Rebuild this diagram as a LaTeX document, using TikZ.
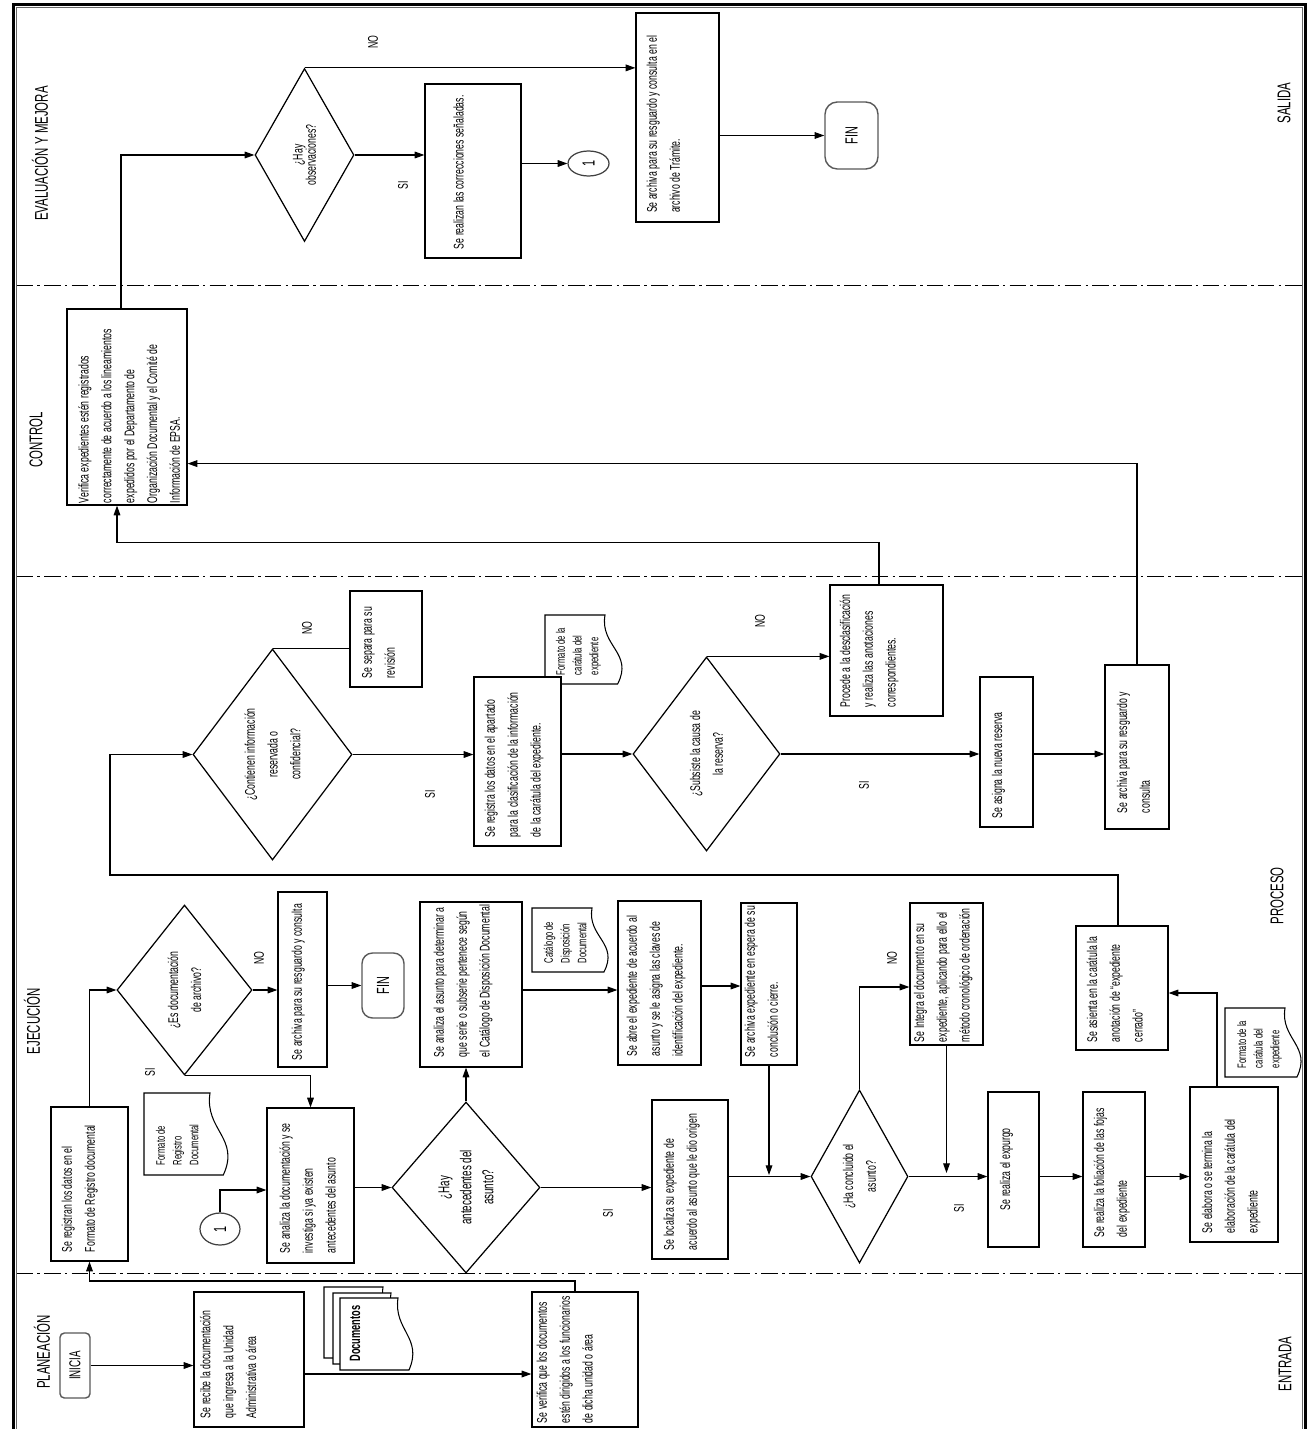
\documentclass[tikz,border=0pt]{standalone}
\usepackage{fontspec}
\setmainfont[FakeStretch=0.62]{Liberation Sans}
\usetikzlibrary{shapes.geometric,arrows.meta}
\newlength\pxu \setlength\pxu{0.02cm}
\newcommand\boxfont{\fontsize{8}{13}\selectfont}
\newcommand\docfont{\fontsize{7}{9.5}\selectfont}
\newcommand\termfont{\fontsize{10}{11}\selectfont}
\newcommand\lblfont{\fontsize{8}{9}\selectfont}
\newcommand\lanefont{\fontsize{10.5}{12}\selectfont}
\newcommand\bx[5][9]{\parbox[c][#3\pxu][t]{#2\pxu}{\vspace*{#4\pxu}\noindent\hspace*{#1\pxu}\begin{tabular}[t]{@{}l@{}}#5\end{tabular}}}
\newcommand\docshape[5]{\draw[docst] (#1,-#3) -- (#2,-#3) .. controls ({#2-0.3*#5},{-#3-0.45*(#4-#3)}) and ({#2+1.6*#5},{-#3-0.55*(#4-#3)}) .. ({#2+0.7*#5},-#4) -- (#1,-#4) -- cycle;}
\begin{document}
\begin{tikzpicture}[x=0.02cm,y=0.02cm,
  bxs/.style={draw, line width=0.7pt, fill=white, inner sep=0pt, rotate=90, font=\boxfont},
  txs/.style={inner sep=0pt, rotate=90, font=\docfont},
  dia/.style n args={3}{diamond, draw, line width=0.7pt, fill=white, inner sep=0pt, rotate=90, align=center, font=\boxfont, minimum width=#1*0.02cm, minimum height=#2*0.02cm, aspect=#3},
  trm/.style n args={3}{draw=black!65, line width=0.8pt, fill=white, rounded corners=#3, rotate=90, inner sep=0pt, minimum width=#1*0.02cm, minimum height=#2*0.02cm, font=\termfont},
  cir/.style 2 args={ellipse, draw=black!75, line width=0.7pt, fill=white, inner sep=0pt, rotate=90, minimum width=#1*0.02cm, minimum height=#2*0.02cm, font=\termfont},
  arr/.style={line width=0.6pt, -{Triangle[length=5.5pt,width=3.8pt]}},
  lin/.style={line width=0.6pt},
  lbl/.style={rotate=90, inner sep=0pt, font=\lblfont},
  lanet/.style={rotate=90, inner sep=0pt, font=\lanefont},
  sepl/.style={line width=0.45pt, dash pattern=on 9.5pt off 2.4pt on 1.4pt off 2.4pt},
  docst/.style={draw, line width=0.6pt, fill=white},
]
\useasboundingbox (0,0) rectangle (1307,-1429);
\clip (0,0) rectangle (1307,-1429);
\fill[white] (0,0) rectangle (1307,-1429);

% frame
\draw[line width=1.5pt] (13.5,-1440) -- (13.5,-4.5) -- (1305.5,-4.5) -- (1305.5,-1440);
\draw[line width=0.5pt, black!60] (16.5,-1440) -- (16.5,-7.5) -- (1302.5,-7.5) -- (1302.5,-1440);

% lane separators
\draw[sepl] (16.5,-285.5) -- (1302.5,-285.5);
\draw[sepl] (16.5,-576) -- (1302.5,-576);
\draw[sepl] (16.5,-1273) -- (1302.5,-1273);

% lane titles
\node[lanet] (tplan) at (42,-1352) {PLANEACIÓN};
\node[lanet] (tejec) at (32,-1021) {EJECUCIÓN};
\node[lanet] (tcont) at (36,-440) {CONTROL};
\node[lanet] (teval) at (40,-153.5) {EVALUACIÓN Y MEJORA};
\node[lanet] (tent) at (1285,-1364) {ENTRADA};
\node[lanet] (tproc) at (1277,-896) {PROCESO};
\node[lanet] (tsal) at (1284,-103) {SALIDA};

% ---------- Planeacion ----------
\node[trm={65}{30}{2.5pt}, font=\fontsize{9}{10}\selectfont] (inicia) at (75,-1365.5) {INICIA};
\node[bxs] (recibe) at (249,-1359.5) {\bx{135}{110}{0.5}{Se recibe  la documentación\\que ingresa a la Unidad\\Administrativa o área}};
\node[bxs] (verifica) at (585,-1359.5) {\bx[4]{135}{106}{-1}{Se  verifica que los documentos\\estén dirigidos a los funcionarios\\de dicha unidad o área}};
\docshape{324}{383}{1287}{1358}{15}
\docshape{333}{391}{1293}{1364}{15}
\docshape{340}{398}{1298}{1370}{15.7}
\node[rotate=90, inner sep=0pt, font=\fontsize{8.5}{10}\selectfont\bfseries] (documentos) at (355,-1333.5) {Documentos};

% ---------- Ejecucion ----------
\node[bxs] (registran) at (89.5,-1184) {\bx{154}{77}{5}{Se registran los datos en el\\Formato de Registro documental}};
\docshape{144}{210}{1093}{1175}{19}
\node[txs] (docreg) at (185.5,-1134) {\bx[10]{82}{83}{9.3}{Formato de\\Registro\\Documental}};
\node[dia={170}{135}{1.26}] (esdoc) at (184.5,-990) {¿Es documentación\\de archivo?};
\node[bxs] (archiva1) at (302.5,-979.5) {\bx[7]{175}{49}{8}{Se archiva para su resguardo y consulta}};
\node[trm={65}{42}{6pt}] (fin1) at (383,-985.5) {FIN};
\node[cir={32}{40}] (c1) at (220,-1229) {1};
\node[bxs] (analizadoc) at (310.5,-1185.5) {\bx[10]{155}{87}{7}{Se analiza la documentación y se\\investiga si ya existen\\antecedentes del  asunto}};
\node[dia={171}{148}{1.16}, font=\fontsize{9}{12.5}\selectfont] (hayant) at (466,-1187.5) {¿Hay\\antecedentes del\\asunto?};
\node[bxs] (analizaasunto) at (471,-984.5) {\bx[10]{165}{102}{8}{Se analiza el asunto para determinar a\\que serie o subserie pertenece según\\el Catálogo de Disposición Documental}};
\docshape{532}{592}{908}{972}{17}
\node[txs] (doccat) at (569.5,-940) {\bx{64}{75}{9.3}{Catálogo de\\Disposición\\Documental}};
\node[bxs] (abre) at (659.5,-983) {\bx{164}{83}{3}{Se abre el expediente de acuerdo al\\asunto y se le asigna las claves de\\identificación del expediente.}};
\node[bxs] (archivaexp) at (769,-984) {\bx[8]{162}{56}{-2}{Se archiva expediente en espera de  su\\conclusión o cierre.}};
\node[bxs] (localiza) at (690,-1179.5) {\bx{159}{76}{6}{Se  localiza su expediente de\\acuerdo al asunto que le dio origen}};
\node[dia={173}{97}{1.78}] (haconc) at (859.5,-1176.5) {¿Ha concluido el\\asunto?};
\node[bxs] (integra) at (946.5,-974) {\bx[3]{142}{73}{-2}{Se Integra el documento en su\\expediente, aplicando para ello el\\método cronológico de ordenación}};
\node[bxs] (expurgo) at (1013.5,-1169.5) {\bx[37]{155}{51}{6}{Se realiza el expurgo}};
\node[bxs] (foliacion) at (1114,-1169.5) {\bx[10]{155}{62}{5}{Se  realiza la foliación de las fojas\\del expediente}};
\node[bxs] (elabora) at (1234,-1164.5) {\bx{155}{88}{6}{Se elabora o se termina la\\elaboración de la carátula del\\expediente}};
\node[bxs] (asienta) at (1122,-988) {\bx[8]{124}{92}{5}{Se asienta en la carátula la\\anotación de “expediente\\cerrado”}};
\docshape{1225}{1285}{1008}{1077}{17}
\node[txs] (doccar2) at (1262.5,-1042.5) {\bx{69}{75}{9.3}{Formato de la\\carátula del\\expediente}};
\node[dia={211}{159}{1.33}] (contienen) at (272.5,-754.5) {¿Contienen información\\reservada o\\confidencial?};
\node[bxs] (separa) at (386,-639) {\bx{96}{72}{6}{Se separa para su\\revisión}};
\docshape{545}{605}{615}{684}{18}
\node[txs] (doccar1) at (583,-649.5) {\bx{69}{76}{8.3}{Formato de la\\carátula del\\expediente}};
\node[bxs] (regclas) at (517.5,-761.5) {\bx{169}{87}{5}{Se registra los datos en el apartado\\para la clasificación de la información\\de la carátula del expediente.}};
\node[dia={194}{147}{1.32}] (subsiste) at (706.5,-754) {¿Subsiste la causa de\\la reserva?};
\node[bxs] (procede) at (886.5,-650.5) {\bx{131}{113}{4}{Procede a la desclasificación\\y realiza las anotaciones\\correspondientes.}};
\node[bxs] (asigna) at (1006.5,-752) {\bx{150}{53}{6}{Se asigna la nueva reserva}};
\node[bxs] (archiva2) at (1137,-747) {\bx[16]{164}{64}{6}{Se archiva para su resguardo y\\consulta}};

% ---------- Control ----------
\node[bxs] (verifc) at (127,-407) {\bx[2]{196}{120}{5.6}{Verifica expedientes estén registrados\\correctamente de acuerdo a los  lineamientos\\expedidos por el Departamento de\\Organización Documental y el Comité de\\Información de EPSA.}};

% ---------- Evaluacion ----------
\node[dia={173}{99}{1.75}, font=\fontsize{8}{7.5}\selectfont] (hayobs) at (304.5,-155) {¿Hay\\observaciones?};
\node[bxs] (correc) at (473,-171) {\bx{174}{96}{22.6}{Se realizan las correcciones señaladas.}};
\node[cir={25}{41}] (c2) at (588.5,-163.5) {1};
\node[bxs] (tramite) at (677.5,-117.5) {\bx{209}{83}{5}{Se archiva para su resguardo y consulta en el\\archivo de Trámite.}};
\node[trm={67}{53}{7pt}] (fin2) at (851.5,-135.5) {FIN};

% ---------- coordinates ----------
\coordinate (k1) at (575,-1281);
\coordinate (k2) at (0,-1374);
\coordinate (kc1) at (0,-1190);
\coordinate (k3) at (0,-990);
\coordinate (k4) at (0,-986);
\coordinate (k5) at (0,-1175);
\coordinate (k6) at (0,-987);
\coordinate (k7) at (0,-1173);
\coordinate (k8) at (1217,-993);
\coordinate (k9) at (1118,-875);
\coordinate (k10) at (110,-875);
\coordinate (k11) at (0,-463.6);
\coordinate (k12) at (879,-542.5);
\coordinate (k13) at (117,-542.5);
\coordinate (k14) at (121,0);

% ---------- connectors ----------
\draw[arr] (inicia.south) -- (inicia.south -| recibe.north);
\draw[arr] (recibe.south |- k2) -- (verifica.north |- k2);
\draw[arr] (verifica.east -| k1) -- (k1) -| (registran.west);
\draw[arr] (registran.east) |- (esdoc.north);
\draw[arr] (esdoc.west) -| (analizadoc.east);
\draw[arr] (esdoc.south) -- (esdoc.south -| archiva1.north);
\draw[arr] (archiva1.south |- fin1.north) -- (fin1.north);
\draw[arr] (c1.east) |- (analizadoc.north |- kc1);
\draw[arr] (analizadoc.south |- hayant.north) -- (hayant.north);
\draw[arr] (hayant.east) -- (hayant.east |- analizaasunto.west);
\draw[arr] (hayant.south) -- (hayant.south -| localiza.north);
\draw[arr] (analizaasunto.south |- k3) -- (abre.north |- k3);
\draw[arr] (abre.south |- k4) -- (archivaexp.north |- k4);
\draw[arr] (archivaexp.west) -- (archivaexp.west |- k5);
\draw[arr] (localiza.south |- haconc.north) -- (haconc.north);
\draw[arr] (haconc.east) |- (integra.north |- k6);
\draw[arr] (integra.west) -- (integra.west |- k7);
\draw[arr] (haconc.south) -- (haconc.south -| expurgo.north);
\draw[arr] (expurgo.south |- haconc.south) -- (foliacion.north |- haconc.south);
\draw[arr] (foliacion.south |- haconc.south) -- (elabora.north |- haconc.south);
\draw[arr] (elabora.east -| k8) -- (k8) -- (asienta.south |- k8);
\draw[arr] (asienta.east -| k9) -- (k9) -- (k10) |- (contienen.north);
\draw[lin] (contienen.east) -- (contienen.east -| separa.north);
\draw[arr] (contienen.south) -- (contienen.south -| regclas.north);
\draw[arr] (regclas.south |- subsiste.north) -- (subsiste.north);
\draw[arr] (subsiste.east) -- (subsiste.east -| procede.north);
\draw[arr] (subsiste.south) -- (subsiste.south -| asigna.north);
\draw[arr] (asigna.south |- subsiste.south) -- (archiva2.north |- subsiste.south);
\draw[arr] (archiva2.east) |- (verifc.south |- k11);
\draw[arr] (procede.east -| k12) -- (k12) -- (k13) -- (k13 |- verifc.west);
\draw[arr] (verifc.east -| k14) |- (hayobs.north);
\draw[arr] (hayobs.east) -- (hayobs.east -| tramite.north);
\draw[arr] (hayobs.south) -- (hayobs.south -| correc.north);
\draw[arr] (correc.south |- c2.north) -- (c2.north);
\draw[arr] (tramite.south |- fin2.north) -- (fin2.north);

% ---------- labels ----------
\node[lbl] (l1) at (150,-1072) {SI};
\node[lbl] (l2) at (259,-958) {NO};
\node[lbl] (l3) at (608,-1213) {SI};
\node[lbl] (l4) at (892,-958) {NO};
\node[lbl] (l5) at (959,-1208) {SI};
\node[lbl] (l6) at (307,-628) {NO};
\node[lbl] (l7) at (430,-794) {SI};
\node[lbl] (l8) at (760,-621) {NO};
\node[lbl] (l9) at (864,-785) {SI};
\node[lbl] (l10) at (373,-42) {NO};
\node[lbl] (l11) at (403,-185) {SI};
\end{tikzpicture}
\end{document}
